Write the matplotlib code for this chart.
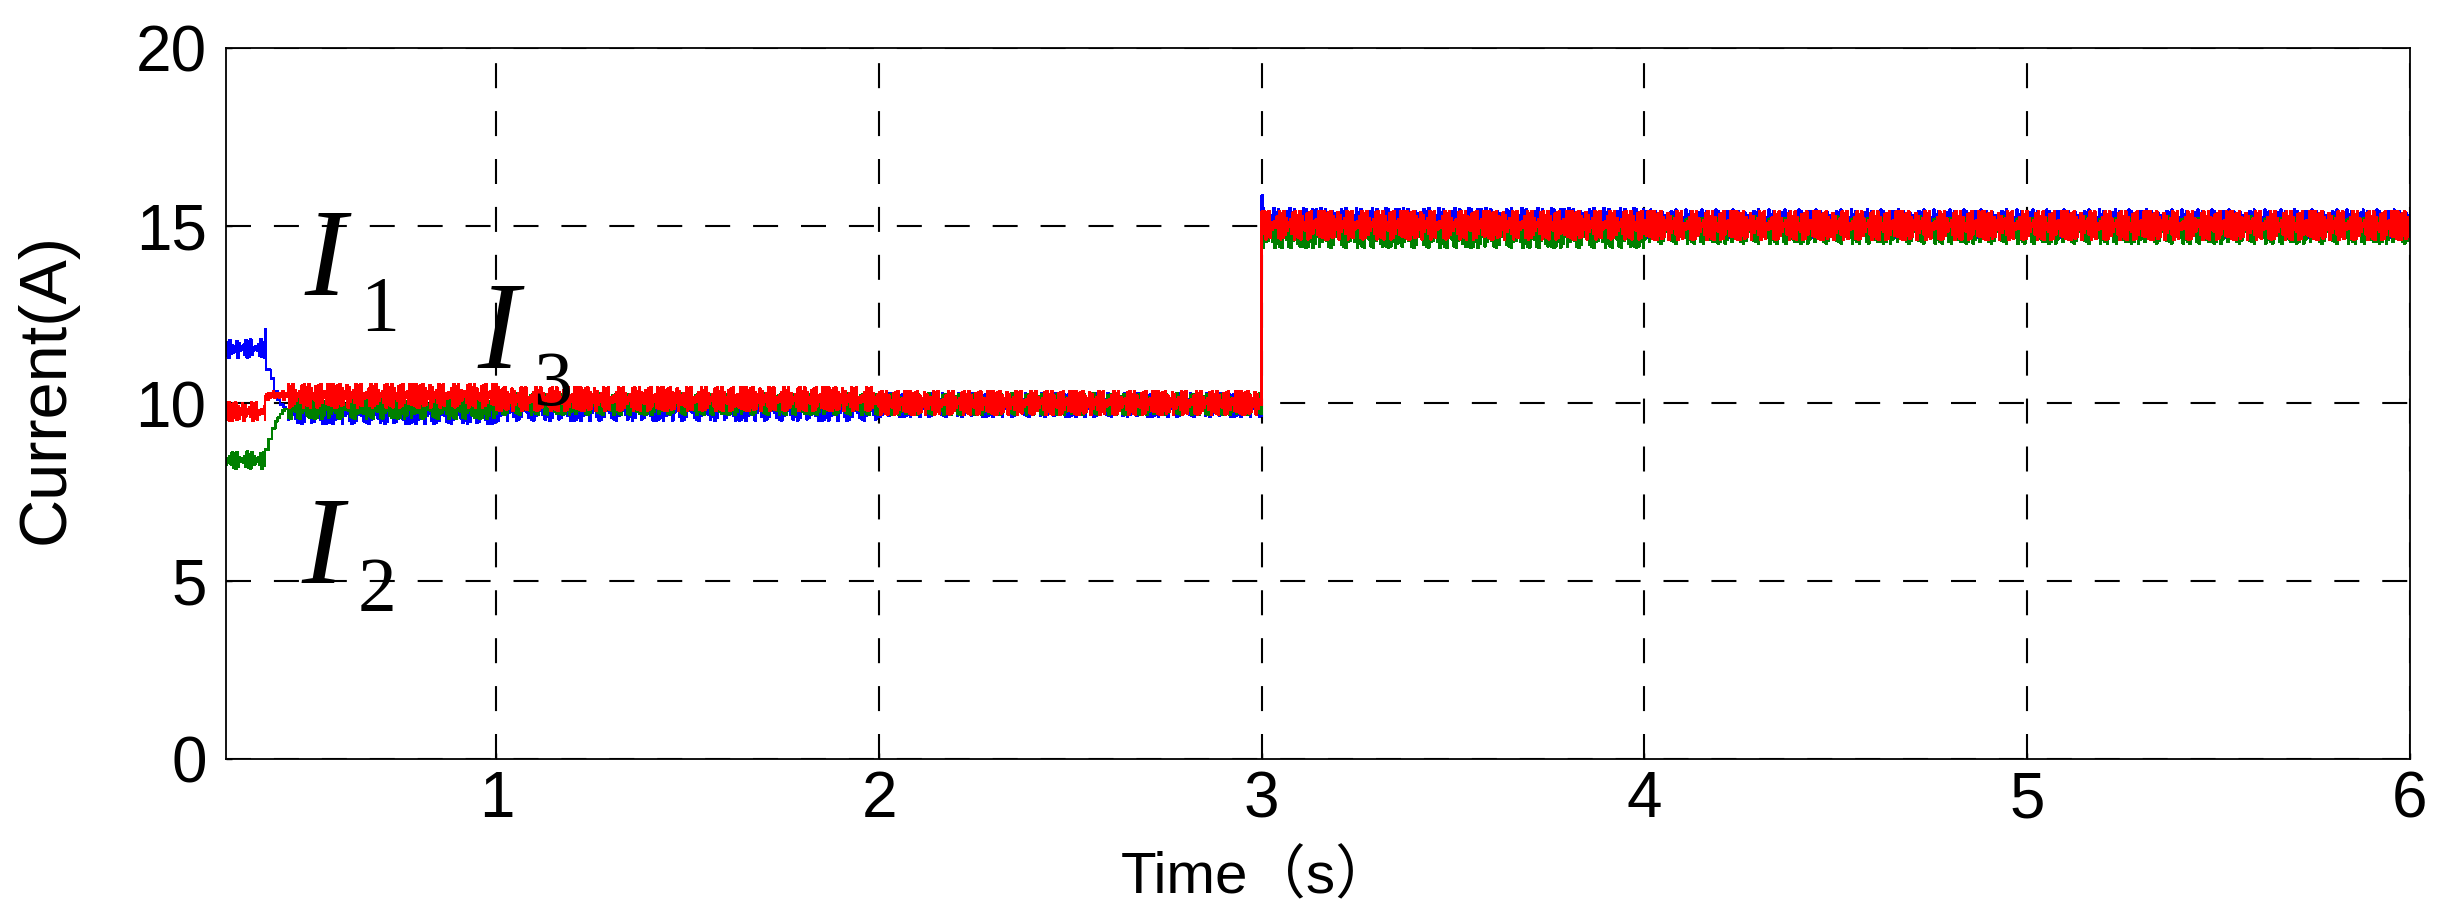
import numpy as np
import matplotlib.pyplot as plt

# segment edges (s); segment 1 is the start-up transient, typed sample by sample
SEG_EDGES = [0.293, 0.395, 0.455, 1.0, 2.0, 3.0, 4.0, 6.0]
STEP = 0.003

# mean level of each segment (None = transient segment)
I1_LEVEL = [11.55, None, 9.75, 9.85, 9.95, 15.10, 15.05]
I2_LEVEL = [8.42, None, 9.90, 10.00, 10.00, 14.78, 14.90]
I3_LEVEL = [9.77, None, 10.22, 10.12, 10.02, 15.02, 15.00]

# transient samples right after the switching at ~0.395 s
I1_TRANS = [12.10, 10.95, 10.95, 10.95, 10.95, 10.70, 10.70, 10.70, 10.34, 10.34, 10.34, 10.10, 10.10,
            9.97, 9.97, 9.97, 9.90, 9.90, 9.85, 9.85]
I2_TRANS = [8.70, 8.70, 8.70, 9.00, 9.00, 9.00, 9.30, 9.30, 9.30, 9.50, 9.50, 9.60, 9.60, 9.70, 9.70,
            9.80, 9.80, 9.85, 9.85, 9.85]
I3_TRANS = [10.20, 10.25, 10.10, 10.30, 10.15, 10.30, 10.20, 10.35, 10.15, 10.30, 10.20, 10.30, 10.15,
            10.30, 10.20, 10.35, 10.10, 10.30, 10.20, 10.30]

# overshoot at the load step (t = 3 s)
I1_SPIKE = 15.85
I2_SPIKE = 14.60
I3_SPIKE = 15.40

# ripple half-width per segment (A)
RIPPLE_AMP = [0.26, 0.0, 0.33, 0.33, 0.33, 0.40, 0.40]

# switching ripple (normalised)
I1_RIPPLE = [0.9, -1, 0.8, -0.9, 1, -0.8, 0.7, -1, 0.9, -0.6, 0.3, -0.5, 0.2, -0.4, 0.8, -1, 0.6, -0.3,
             0.2, -0.1, 0.4, -0.7, 0.9, -1, 0.8, -0.9, 1, -0.7, 0.1, -0.2, 0.2, 0.1, -0.3, 0.5, -0.8, 1,
             -0.9, 0.7, -1, 0.9, -0.6, 0.4, -0.3, 0.1, -0.2, 0.3, -0.5, 0.8, -0.9, 1, -0.7, 0.6, -1, 0.9,
             -0.8, 0.5, -0.2, 0.3, -0.3, 0.7, -0.9, 1, -0.8, 0.9, -0.5, 0.2, -0.3, 0.3, -0.6, 0.9, -1, 0.8]
I2_RIPPLE = [0.7, -0.9, 0.8, -1, 0.6, -0.9, 0.8, -0.6, 0.7, -1, 0.5, -0.7, 0.3, -0.2, 0.8, -0.9, 0.6,
             -0.6, 0.2, -0.3, 0.4, -0.5, 0.8, -0.9, 0.7, -1, 0.8, -0.8, 0.3, -0.2, 0.2, 0.0, -0.3, 0.4,
             -0.8, 0.9, -0.9, 0.6, -1, 0.8, -0.6, 0.4, -0.5, 0.1, -0.2, 0.3, -0.6, 0.7, -1, 0.8, -0.7,
             0.6, -0.9, 0.8, -1, 0.5, -0.3, 0.1, -0.4, 0.6, -0.9, 0.8, -1, 0.8, -0.5, 0.2, -0.3, 0.4,
             -0.7, 0.8, -0.9, 0.7]
I3_RIPPLE = [1, -0.9, 1, -1, 0.8, -1, 0.9, -0.7, 1, -0.9, 0.6, -0.8, 0.4, -0.3, 0.9, -1, 0.7, -0.5,
             0.3, -0.2, 0.5, -0.6, 1, -1, 0.9, -0.8, 1, -0.9, 0.2, -0.3, 0.1, 0.3, -0.2, 0.6, -0.9, 1,
             -1, 0.8, -0.9, 1, -0.7, 0.5, -0.4, 0.2, -0.1, 0.4, -0.6, 0.9, -1, 1, -0.8, 0.7, -0.9, 1,
             -1, 0.6, -0.3, 0.2, -0.4, 0.8, -1, 0.9, -0.9, 1, -0.6, 0.3, -0.2, 0.4, -0.7, 1, -0.8, 0.9]

X_TICKS = [1, 2, 3, 4, 5, 6]
Y_TICKS = [0, 5, 10, 15, 20]


def build(levels, trans, spike, ripple, shift):
    ts, ys = [], []
    k = shift
    for i in range(len(levels)):
        t0, t1 = SEG_EDGES[i], SEG_EDGES[i + 1]
        if levels[i] is None:
            tt = t0 + STEP * np.arange(len(trans))
            ts.append(tt)
            ys.append(np.array(trans))
            continue
        tt = np.arange(t0, t1, STEP)
        if t0 == 3.0:
            ts.append([3.0])
            ys.append([spike])
            tt = tt[1:]
        n = len(tt)
        rip = np.array([ripple[(k + j) % len(ripple)] for j in range(n)])
        k += n
        ts.append(tt)
        ys.append(levels[i] + RIPPLE_AMP[i] * rip)
    return np.concatenate(ts), np.concatenate(ys)


fig = plt.figure(figsize=(24.59, 9.22), dpi=100)
ax = fig.add_axes([226 / 2459, 1 - 759 / 922, 2183.5 / 2459, 711 / 922])

series = [(I1_LEVEL, I1_TRANS, I1_SPIKE, I1_RIPPLE, 5, '#0000ff'),
          (I2_LEVEL, I2_TRANS, I2_SPIKE, I2_RIPPLE, 17, '#008000'),
          (I3_LEVEL, I3_TRANS, I3_SPIKE, I3_RIPPLE, 0, '#ff0000')]
for lev, tr, sp, rp, sh, col in series:
    t, y = build(lev, tr, sp, rp, sh)
    ax.plot(t, y, color=col, linewidth=1.1, drawstyle='steps-post', antialiased=False)

ax.set_xlim(0.293, 6.0)
ax.set_ylim(0, 20)
ax.set_xticks(X_TICKS)
ax.set_yticks(Y_TICKS)
ax.grid(True, color='black', linestyle=(0, (12, 11)), linewidth=1.5)
ax.set_axisbelow(True)
for s in ax.spines.values():
    s.set_linewidth(1.3)

ax.tick_params(direction='in', length=4, width=1.0)
ax.tick_params(axis='y', pad=14)
ax.tick_params(axis='x', pad=8)
for lab in ax.get_xticklabels() + ax.get_yticklabels():
    lab.set_fontfamily('Liberation Sans')
    lab.set_fontsize(46)

fig.text(47 / 2459, 1 - 388 / 922, 'Current(A)', rotation=90, ha='center', va='center',
         family='Liberation Sans', fontsize=48)
fig.text(1258 / 2459, 1 - 878 / 922, 'Time（s）', ha='center', va='center',
         family=['Liberation Sans', 'Noto Sans CJK SC'], fontsize=42)

# curve labels
big = {'family': 'Liberation Serif', 'style': 'italic', 'size': 90}
sub = {'family': 'Liberation Serif', 'size': 56}
ax.text(0.497, 13.05, 'I', va='baseline', ha='left', **big)
ax.text(0.643, 12.08, '1', va='baseline', ha='left', **sub)
ax.text(0.489, 4.96, 'I', va='baseline', ha='left', **big)
ax.text(0.636, 4.15, '2', va='baseline', ha='left', **sub)
ax.text(0.949, 11.0, 'I', va='baseline', ha='left', **big)
ax.text(1.095, 9.97, '3', va='baseline', ha='left', **sub)

fig.savefig('out.png', dpi=100)
